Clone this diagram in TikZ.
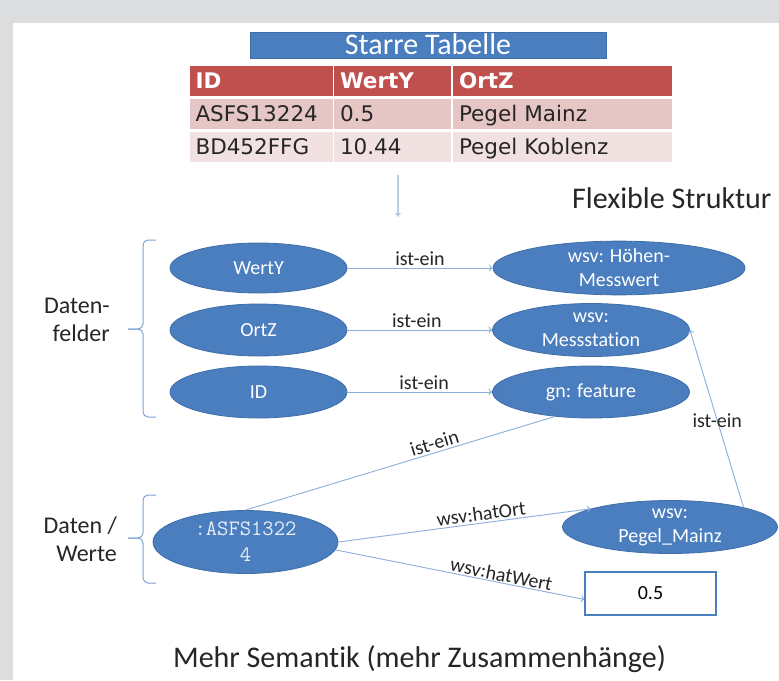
\documentclass[tikz,border=0pt]{standalone}
\usepackage{fontspec}
\setmainfont{Carlito}[Ligatures=NoCommon]
\newfontfamily\tabfont{DejaVu Sans}
\usetikzlibrary{shapes.geometric,arrows.meta}

\definecolor{pageGrey}{HTML}{DCDDDF}
\definecolor{nodeBlue}{HTML}{4A7EBF}
\definecolor{nodeEdge}{HTML}{3F6EA8}
\definecolor{linkBlue}{HTML}{8CAEDB}
\definecolor{downBlue}{HTML}{B9CDE6}
\definecolor{braceBlue}{HTML}{7FA3D4}
\definecolor{headRed}{HTML}{C0504D}
\definecolor{rowA}{HTML}{E6C5C5}
\definecolor{rowB}{HTML}{F2E1E1}
\definecolor{darkText}{HTML}{262626}
\definecolor{monoText}{HTML}{E6ECF5}

\begin{document}
\begin{tikzpicture}[x=1pt,y=-1pt,
  concept/.style={ellipse, fill=nodeBlue, draw=nodeEdge, line width=0.8pt,
    inner sep=0pt, text=white, align=center, font=\fontsize{20}{24}\selectfont},
  link/.style={draw=linkBlue, line width=0.9pt, -{To[length=3.5pt,width=7pt]}},
  bare link/.style={draw=linkBlue, line width=0.9pt},
  rel/.style={font=\fontsize{20}{23}\selectfont, text=darkText, inner sep=2pt},
  cell/.style={rectangle, inner xsep=6pt, inner ysep=0pt, minimum height=30pt,
    text height=15.7pt, text depth=0pt, align=left, text=darkText,
    font=\tabfont\fontsize{21.5}{26}\selectfont},
  head/.style={cell, fill=headRed, text=white,
    font=\tabfont\bfseries\fontsize{21.5}{26}\selectfont},
  colA/.style={text width=131pt},
  colB/.style={text width=105pt},
  colC/.style={text width=207pt},
  valbox/.style={rectangle, draw=nodeBlue, line width=1.2pt, minimum width=131pt,
    minimum height=43pt, font=\fontsize{20}{23}\selectfont, text=black},
  brace/.style={draw=braceBlue, line width=1pt, rounded corners=5pt},
  side/.style={font=\fontsize{24}{28.5}\selectfont, align=right, inner sep=0pt, text=darkText},
  title/.style={font=\fontsize{30}{34}\selectfont, text=darkText, inner sep=0pt}
]
\useasboundingbox (0,0) rectangle (779,680);
% slide frame
\fill[pageGrey] (0,0) rectangle (779,680);
\fill[white] (13,23) rectangle (779,680);

% rigid table
\node[rectangle, fill=nodeBlue, draw=nodeEdge, line width=0.6pt, inner sep=0pt,
  minimum width=356pt, minimum height=26pt, text height=19pt, text depth=0pt,
  text=white, font=\fontsize{30}{34}\selectfont] (tabtitle) at (428,45) {Starre Tabelle};

\node[head, colA] (h1) at (261,81) {ID};
\node[head, colB] (h2) at (392.5,81) {WertY};
\node[head, colC] (h3) at (562.5,81) {OrtZ};
\node[cell, colA, fill=rowA] (a1) at (261,113.5) {ASFS13224};
\node[cell, colB, fill=rowA] (a2) at (392.5,113.5) {0.5};
\node[cell, colC, fill=rowA] (a3) at (562.5,113.5) {Pegel Mainz};
\node[cell, colA, fill=rowB] (b1) at (261,146.5) {BD452FFG};
\node[cell, colB, fill=rowB] (b2) at (392.5,146.5) {10.44};
\node[cell, colC, fill=rowB] (b3) at (562.5,146.5) {Pegel Koblenz};

\coordinate (downstart) at (398,175);
\coordinate (downend) at (398,217);
\draw[draw=downBlue, line width=2pt, -{Triangle[length=4pt,width=6pt,fill=linkBlue]}] (downstart) -- (downend);

\node[title, anchor=base west] (flex) at (572,208) {Flexible Struktur};

% data fields and their classes
\node[concept, minimum width=177pt, minimum height=50pt] (werty) at (258.5,268) {WertY};
\node[concept, minimum width=177pt, minimum height=52pt] (ortz) at (258.5,330) {OrtZ};
\node[concept, minimum width=177pt, minimum height=52pt] (id) at (258.5,392) {ID};
\node[concept, minimum width=252pt, minimum height=50pt] (hoehen) at (619,268) {wsv: Höhen-\\Messwert};
\node[concept, minimum width=197pt, minimum height=53pt] (mess) at (591,330) {wsv:\\Messstation};
\node[concept, minimum width=197pt, minimum height=52pt] (gn) at (591,392) {gn: feature};

% data values
\node[concept, minimum width=185pt, minimum height=63pt, text=monoText,
  font=\ttfamily\fontsize{22}{26}\selectfont] (asfs) at (245.5,542) {:ASFS1322\\4};
\node[concept, minimum width=215pt, minimum height=53pt] (pegel) at (670,527) {wsv:\\Pegel\_Mainz};
\node[valbox] (val) at (650.5,593.5) {0.5};

% relations
\draw[link] (werty) -- node[rel, above, pos=0.5] {ist-ein} (hoehen);
\draw[link] (ortz) -- node[rel, above, pos=0.48] {ist-ein} (mess);
\draw[link] (id) -- node[rel, above, pos=0.53] {ist-ein} (gn);
\draw[bare link] (asfs.north) -- node[rel, above, sloped, pos=0.62] {ist-ein} (gn.214);
\draw[link] (asfs.east) -- node[rel, above, sloped, pos=0.57] {wsv:hatOrt} (pegel.167);
\draw[link] (asfs.-5) -- node[rel, above, sloped, pos=0.66, inner sep=1pt] {wsv:hatWert} ([yshift=-6pt]val.west);
\draw[link] (pegel.15) -- node[rel, pos=0.49] {ist-ein} (mess.east);

% group braces
\draw[brace] (156,240) -- (143,240) -- (143,329) -- (128,329);
\draw[brace] (128,329) -- (143,329) -- (143,417) -- (156,417);
\draw[brace] (156,495) -- (143,495) -- (143,538) -- (128,538);
\draw[brace] (128,538) -- (143,538) -- (143,583) -- (156,583);

\node[side, anchor=north east] (fields) at (110,297.5) {Daten-\\felder};
\node[side, anchor=north east] (values) at (117,516.5) {Daten /\\Werte};

\node[title, anchor=base] (semantik) at (419.5,667) {Mehr Semantik (mehr Zusammenhänge)};
\end{tikzpicture}
\end{document}
